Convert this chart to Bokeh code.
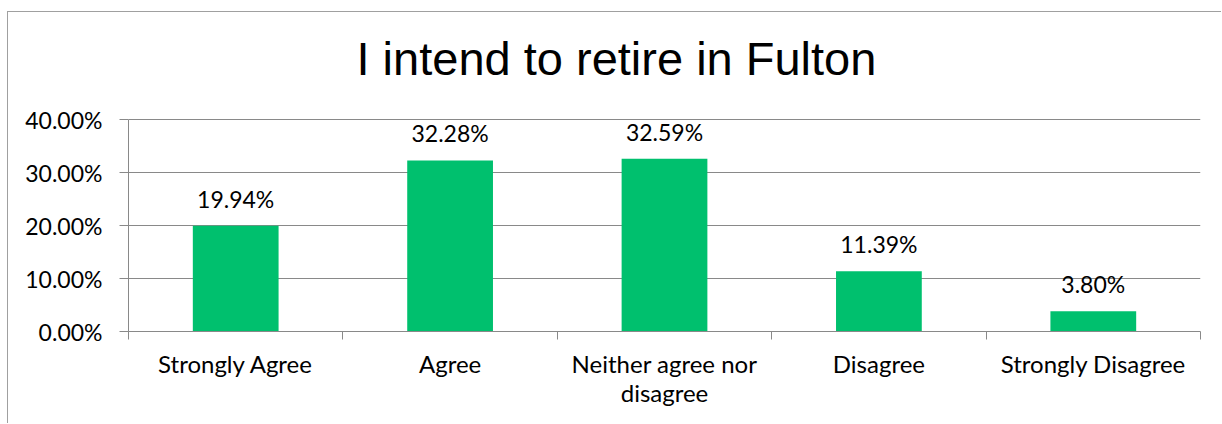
from bokeh.plotting import figure
from bokeh.models import (Range1d, LinearAxis, FixedTicker, NumeralTickFormatter,
                          ColumnDataSource, LabelSet, Label)
from bokeh.core.properties import value
from bokeh.embed import file_html
from bokeh.resources import INLINE

# ---- data ----
categories = ["Strongly Agree", "Agree", "Neither agree nor disagree", "Disagree", "Strongly Disagree"]
category_labels = ["Strongly Agree", "Agree", "Neither agree nor\ndisagree", "Disagree", "Strongly Disagree"]
percent_values = [19.94, 32.28, 32.59, 11.39, 3.80]
y_ticks = [0.0, 0.1, 0.2, 0.3, 0.4]
title_text = "I intend to retire in Fulton"

# ---- style ----
GREEN = "#00C06E"
GRAY = "#898989"
BORDER = "#a0a0a0"
LABEL_FONT = "Lato"
NUM_SIZE = "23px"
CAT_SIZE = "24px"

# layout (pixels)
FIG_W, FIG_H = 1214, 412
BORDER_L, BORDER_R, BORDER_T, BORDER_B = 120, 22, 20, 93
AXIS_PX = 212          # height of the 0..40% value axis
FRAME_H = FIG_H - BORDER_T - BORDER_B
y_top = y_ticks[-1] * FRAME_H / AXIS_PX   # frame extends above 40% to hold the title

n = len(categories)
centers = [i + 0.5 for i in range(n)]          # category slot centres
edges = [float(i) for i in range(n + 1)]        # category slot boundaries

source = ColumnDataSource(dict(
    x=centers,
    share=[v / 100 for v in percent_values],
    label=[f"{v:.2f}%" for v in percent_values],
))

p = figure(width=FIG_W, height=FIG_H,
           x_range=Range1d(0, n), y_range=Range1d(0, y_top),
           output_backend="svg", toolbar_location=None, title_location=None,
           min_border_left=BORDER_L, min_border_right=BORDER_R,
           min_border_top=BORDER_T, min_border_bottom=BORDER_B)

p.outline_line_color = None
p.background_fill_color = "white"
p.border_fill_color = "white"
p.styles = {"margin-left": "7px", "margin-top": "11px",
            "border-left": f"1px solid {BORDER}", "border-top": f"1px solid {BORDER}"}

# chart title, above the 40% line
title = Label(x=edges[0], y=y_ticks[-1], x_offset=228, y_offset=61,
              text=title_text, text_font="Liberation Sans", text_font_size="47px",
              text_color="black", text_align="left", text_baseline="alphabetic")
p.add_layout(title)

# y axis
yax = p.yaxis[0]
yax.bounds = (y_ticks[0], y_ticks[-1])
yax.ticker = FixedTicker(ticks=y_ticks)
yax.formatter = NumeralTickFormatter(format="0.00%")
yax.major_tick_out = 9
yax.major_tick_in = 0
yax.minor_tick_line_color = None
yax.axis_line_color = GRAY
yax.major_tick_line_color = GRAY
yax.major_label_standoff = 17
yax.major_label_text_font = LABEL_FONT
yax.major_label_text_font_size = NUM_SIZE
yax.major_label_text_color = "black"

p.ygrid.ticker = FixedTicker(ticks=y_ticks)
p.ygrid.grid_line_color = GRAY
p.xgrid.grid_line_color = None

# x axis: boundary ticks (main axis, no labels) + category labels (second axis)
xax = p.xaxis[0]
xax.ticker = FixedTicker(ticks=edges)
xax.major_label_overrides = {e: "" for e in edges}
xax.major_label_standoff = 0
xax.major_tick_out = 8
xax.major_tick_in = 0
xax.minor_tick_line_color = None
xax.axis_line_color = GRAY
xax.major_tick_line_color = GRAY

label_axis = LinearAxis(ticker=FixedTicker(ticks=centers),
                        axis_line_color=None, major_tick_line_color=None,
                        minor_tick_line_color=None,
                        major_tick_in=0, major_tick_out=0,
                        major_label_standoff=9,
                        major_label_text_font=LABEL_FONT,
                        major_label_text_font_size=CAT_SIZE,
                        major_label_text_line_height=1.0,
                        major_label_text_color="black",
                        major_label_overrides=dict(zip(centers, category_labels)))
p.add_layout(label_axis, "below")

# bars
p.vbar(x="x", top="share", width=0.4, source=source, fill_color=GREEN, line_color=None)

# data labels
labels = LabelSet(x="x", y="share", text="label", source=source,
                  text_align="center", text_baseline="alphabetic", y_offset=18,
                  text_font=value(LABEL_FONT), text_font_size=value(NUM_SIZE),
                  text_color="black")
p.add_layout(labels)

open("out.html", "w").write(file_html(p, INLINE))
